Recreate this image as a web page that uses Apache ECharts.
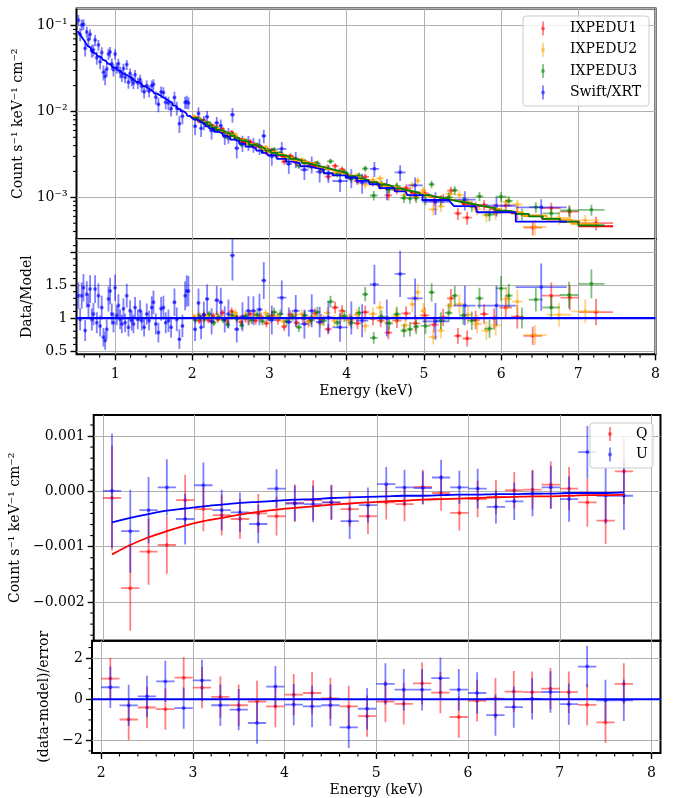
<!DOCTYPE html>
<html>
<head>
<meta charset="utf-8">
<script src="https://cdn.jsdelivr.net/npm/echarts@6/dist/echarts.min.js"></script>
<style>
html, body { margin: 0; padding: 0; background: #fff; }
#main { width: 680px; height: 798px; }
</style>
</head>
<body>
<div id="main"></div>
<script>
// ---------- spectrum: Swift/XRT (energy keV, half bin width, data/model, error, model counts) ----------
var swiftEnergy = [0.525,0.547,0.568,0.590,0.612,0.633,0.655,0.676,0.698,0.719,
    0.741,0.763,0.784,0.806,0.827,0.849,0.871,0.892,0.914,0.935,
    0.957,0.979,1.000,1.022,1.043,1.065,1.087,1.108,1.130,1.151,
    1.173,1.194,1.216,1.238,1.259,1.294,1.324,1.345,1.376,1.410,
    1.440,1.475,1.497,1.527,1.561,1.596,1.626,1.656,1.691,1.725,
    1.769,1.799,1.833,1.872,1.907,1.928,1.950,
    2.036,2.080,2.114,2.150,2.192,2.250,2.317,2.369,2.420,2.468,
    2.520,2.576,2.650,2.727,2.792,2.870,2.926,3.030,3.159,3.250,
    3.340,3.452,3.547,3.650,3.763,3.914,4.060,4.200,4.359,4.520,
    4.692,4.886,5.150,5.530,5.940,6.520];
var swiftHalfWidth = [0.011,0.011,0.011,0.011,0.011,0.011,0.011,0.011,0.011,0.011,
    0.011,0.011,0.011,0.011,0.011,0.011,0.011,0.011,0.011,0.011,
    0.011,0.011,0.011,0.011,0.011,0.011,0.011,0.011,0.011,0.011,
    0.011,0.011,0.011,0.011,0.011,0.015,0.012,0.012,0.015,0.015,
    0.015,0.015,0.012,0.015,0.017,0.017,0.015,0.015,0.017,0.017,
    0.020,0.015,0.017,0.020,0.015,0.010,0.015,
    0.02,0.02,0.017,0.02,0.025,0.03,0.03,0.025,0.025,0.025,
    0.03,0.03,0.04,0.04,0.03,0.04,0.03,0.05,0.06,0.04,
    0.05,0.05,0.05,0.05,0.06,0.10,0.08,0.08,0.06,0.10,
    0.07,0.10,0.17,0.14,0.25,0.33];
var swiftRatio = [1.34,0.98,1.34,1.46,0.81,1.36,1.19,1.44,0.98,1.06,
    1.44,0.93,1.34,0.88,1.16,0.71,0.66,0.83,1.29,1.41,
    1.06,0.93,1.46,1.04,1.19,0.98,0.91,1.14,0.93,1.34,
    0.86,1.11,0.96,0.91,1.16,0.98,1.11,0.96,0.86,1.06,
    0.96,1.16,1.24,0.91,0.78,1.14,1.16,0.93,0.96,0.86,
    1.24,0.98,0.68,0.88,1.34,1.41,1.41,
    0.83,1.23,0.86,1.05,1.29,0.95,1.27,1.24,0.98,1.06,
    1.95,0.83,1.02,1.11,1.11,1.13,1.57,0.97,1.31,0.94,
    1.11,0.91,1.11,0.94,1.01,0.86,1.00,0.96,1.51,1.00,
    1.67,1.30,0.95,1.19,1.19,1.47];
var swiftError = [0.20,0.17,0.20,0.21,0.16,0.20,0.18,0.21,0.17,0.17,
    0.21,0.16,0.19,0.16,0.18,0.14,0.14,0.15,0.19,0.20,
    0.16,0.15,0.20,0.15,0.17,0.15,0.14,0.16,0.14,0.18,
    0.14,0.16,0.15,0.14,0.16,0.15,0.16,0.15,0.14,0.16,
    0.15,0.17,0.18,0.16,0.15,0.18,0.18,0.16,0.17,0.16,
    0.21,0.18,0.15,0.17,0.22,0.24,0.23,
    0.18,0.22,0.18,0.20,0.22,0.20,0.22,0.22,0.20,0.22,
    0.38,0.20,0.22,0.22,0.22,0.24,0.28,0.22,0.26,0.22,
    0.24,0.22,0.25,0.23,0.24,0.22,0.25,0.25,0.30,0.28,
    0.35,0.30,0.28,0.30,0.30,0.36];
var swiftModel = [0.086,0.081,0.076,0.071,0.067,0.062,0.058,0.055,0.052,0.049,
    0.047,0.0455,0.0443,0.0430,0.0418,0.0402,0.0388,0.0375,0.0362,0.0350,
    0.0338,0.0328,0.0320,0.0311,0.0302,0.0294,0.0285,0.0277,0.0269,0.0262,
    0.0255,0.0249,0.0243,0.0236,0.0230,0.0220,0.0211,0.0205,0.0197,0.0188,
    0.0180,0.0172,0.0167,0.0161,0.0155,0.0148,0.0143,0.0138,0.0131,0.0125,
    0.0117,0.0112,0.0106,0.0100,0.0095,0.0092,0.0089,
    0.0081,0.0077,0.0074,0.0071,0.0067,0.0063,0.0058,0.0055,0.0052,0.0050,
    0.0047,0.0045,0.0042,0.0039,0.0037,0.0035,0.0033,0.0031,0.0028,0.0026,
    0.0025,0.0023,0.0022,0.0021,0.0019,0.0018,0.0017,0.00155,0.00142,0.00128,
    0.00117,0.00106,0.00093,0.00079,0.00067,0.00052];

// ---------- spectrum: IXPE DU1 ----------
var du1Energy = [2.03,2.09,2.15,2.21,2.27,2.33,2.39,2.45,2.51,2.57,
    2.63,2.69,2.75,2.82,2.89,2.96,3.03,3.11,3.19,3.27,
    3.35,3.43,3.51,3.59,3.67,3.76,3.85,3.94,4.04,4.14,
    4.24,4.34,4.44,4.54,4.65,4.77,4.89,5.01,5.13,5.25,
    5.35,5.44,5.56,5.67,5.78,5.91,6.06,6.21,6.41,6.65,
    6.89,7.23];
var du1HalfWidth = [0.03,0.03,0.03,0.03,0.03,0.03,0.03,0.03,0.03,0.03,
    0.03,0.03,0.035,0.035,0.035,0.035,0.04,0.04,0.04,0.04,
    0.04,0.04,0.04,0.04,0.045,0.045,0.045,0.045,0.05,0.05,
    0.05,0.05,0.05,0.05,0.06,0.06,0.06,0.06,0.06,0.06,
    0.05,0.05,0.06,0.055,0.055,0.065,0.08,0.08,0.12,0.12,
    0.12,0.22];
var du1Ratio = [1.00,0.96,1.05,0.97,1.03,0.98,1.08,0.95,1.10,1.02,
    0.94,0.99,1.06,0.96,1.02,0.92,1.04,0.97,0.87,1.05,
    0.93,1.00,0.95,1.07,0.98,0.83,1.16,1.11,0.97,0.92,
    1.09,0.99,0.96,0.78,0.96,1.07,0.92,1.04,0.90,1.01,
    1.30,0.73,0.69,0.97,1.06,1.00,1.16,1.02,0.73,1.34,
    1.31,1.09];
var du1Error = [0.05,0.05,0.05,0.05,0.05,0.05,0.05,0.05,0.06,0.06,
    0.06,0.06,0.06,0.06,0.06,0.06,0.07,0.07,0.07,0.07,
    0.07,0.07,0.08,0.08,0.08,0.08,0.09,0.09,0.09,0.09,
    0.10,0.10,0.10,0.10,0.11,0.11,0.12,0.12,0.12,0.13,
    0.14,0.12,0.12,0.14,0.15,0.15,0.17,0.18,0.14,0.20,
    0.19,0.20];
var du1Model = [0.0085,0.0080,0.0075,0.0070,0.0066,0.0062,0.0058,0.0055,0.0052,0.0049,
    0.0047,0.0044,0.0042,0.0040,0.0038,0.0036,0.0034,0.0032,0.0030,0.0029,
    0.0027,0.0026,0.0025,0.0023,0.0022,0.0021,0.0020,0.0019,0.00178,0.00168,
    0.00159,0.00150,0.00142,0.00135,0.00127,0.00120,0.00113,0.00107,0.00101,0.00096,
    0.00092,0.00089,0.00084,0.00080,0.00077,0.00073,0.00069,0.00065,0.00061,0.00056,
    0.00052,0.00046];

// ---------- spectrum: IXPE DU2 ----------
var du2Energy = [2.02,2.08,2.14,2.20,2.26,2.32,2.38,2.44,2.50,2.56,
    2.62,2.68,2.74,2.81,2.88,2.95,3.02,3.10,3.18,3.26,
    3.34,3.42,3.50,3.58,3.66,3.75,3.84,3.93,4.03,4.13,
    4.24,4.34,4.43,4.53,4.64,4.76,4.85,4.92,4.99,5.12,
    5.22,5.34,5.46,5.57,5.69,5.81,5.93,6.07,6.21,6.44,
    6.75,7.09];
var du2HalfWidth = [0.03,0.03,0.03,0.03,0.03,0.03,0.03,0.03,0.03,0.03,
    0.03,0.03,0.035,0.035,0.035,0.035,0.04,0.04,0.04,0.04,
    0.04,0.04,0.04,0.04,0.045,0.045,0.045,0.045,0.05,0.05,
    0.05,0.05,0.05,0.05,0.06,0.06,0.035,0.035,0.035,0.06,
    0.05,0.06,0.06,0.06,0.06,0.06,0.065,0.07,0.07,0.15,
    0.16,0.18];
var du2Ratio = [1.02,1.05,0.98,1.04,0.94,1.06,1.00,0.96,1.03,1.08,
    0.99,1.04,0.95,1.05,1.01,1.07,0.98,1.03,0.95,0.99,
    1.05,1.06,0.94,1.02,0.92,1.08,0.96,1.03,0.97,1.05,
    0.88,1.06,1.16,0.93,1.03,0.89,1.21,1.39,1.11,0.71,
    0.81,1.19,1.21,1.05,0.91,0.81,0.89,1.29,1.25,0.74,
    1.05,1.10];
var du2Error = [0.05,0.05,0.05,0.05,0.05,0.05,0.05,0.05,0.06,0.06,
    0.06,0.06,0.06,0.06,0.06,0.06,0.07,0.07,0.07,0.07,
    0.07,0.07,0.08,0.08,0.08,0.08,0.09,0.09,0.09,0.09,
    0.10,0.10,0.10,0.10,0.11,0.11,0.12,0.13,0.12,0.11,
    0.12,0.14,0.15,0.14,0.14,0.14,0.15,0.18,0.18,0.15,
    0.18,0.18];
var du2Model = [0.0086,0.0081,0.0076,0.0071,0.0067,0.0063,0.0059,0.0056,0.0053,0.0050,
    0.0047,0.0045,0.0042,0.0040,0.0038,0.0036,0.0034,0.0032,0.0031,0.0029,
    0.0027,0.0026,0.0025,0.0024,0.0022,0.0021,0.0020,0.0019,0.00180,0.00170,
    0.00160,0.00150,0.00143,0.00135,0.00128,0.00120,0.00115,0.00112,0.00108,0.00102,
    0.00097,0.00092,0.00088,0.00084,0.00080,0.00076,0.00073,0.00069,0.00066,0.00061,
    0.00055,0.00049];

// ---------- spectrum: IXPE DU3 ----------
var du3Energy = [2.04,2.10,2.16,2.22,2.28,2.34,2.40,2.46,2.52,2.58,
    2.64,2.70,2.77,2.84,2.91,2.98,3.06,3.14,3.22,3.30,
    3.38,3.46,3.54,3.62,3.70,3.79,3.88,3.97,4.06,4.16,
    4.24,4.35,4.45,4.55,4.65,4.74,4.82,4.90,5.02,5.10,
    5.22,5.32,5.40,5.51,5.62,5.72,5.85,6.00,6.10,6.27,
    6.45,6.65,6.88,7.17];
var du3HalfWidth = [0.03,0.03,0.03,0.03,0.03,0.03,0.03,0.03,0.03,0.03,
    0.03,0.03,0.035,0.035,0.035,0.035,0.04,0.04,0.04,0.04,
    0.04,0.04,0.04,0.04,0.045,0.045,0.045,0.045,0.05,0.05,
    0.04,0.05,0.05,0.05,0.05,0.045,0.04,0.04,0.06,0.04,
    0.06,0.05,0.04,0.055,0.055,0.05,0.07,0.07,0.05,0.09,
    0.09,0.11,0.12,0.17];
var du3Ratio = [0.97,1.02,0.99,1.06,0.93,1.01,0.97,0.90,1.04,0.99,
    0.89,1.03,0.97,1.05,0.95,1.02,1.09,1.06,0.95,1.02,
    0.86,1.04,0.97,1.09,0.96,1.25,0.93,1.03,0.93,1.08,
    1.36,0.70,1.02,0.92,1.06,0.81,0.83,0.87,0.88,1.39,
    0.96,1.08,1.34,1.04,0.96,1.30,0.84,1.45,1.34,1.00,
    1.28,1.16,1.35,1.52];
var du3Error = [0.05,0.05,0.05,0.05,0.05,0.05,0.05,0.05,0.06,0.06,
    0.06,0.06,0.06,0.06,0.06,0.06,0.07,0.07,0.07,0.07,
    0.07,0.07,0.08,0.08,0.08,0.09,0.08,0.09,0.09,0.09,
    0.11,0.09,0.10,0.10,0.11,0.10,0.11,0.11,0.12,0.14,
    0.13,0.14,0.15,0.14,0.14,0.16,0.14,0.19,0.18,0.16,
    0.18,0.18,0.20,0.22];
var du3Model = [0.0084,0.0079,0.0074,0.0069,0.0065,0.0061,0.0058,0.0055,0.0052,0.0049,
    0.0046,0.0044,0.0041,0.0039,0.0037,0.0035,0.0033,0.0031,0.0030,0.0028,
    0.0027,0.0025,0.0024,0.0023,0.0022,0.0021,0.0020,0.0019,0.00176,0.00166,
    0.00159,0.00150,0.00141,0.00134,0.00127,0.00121,0.00117,0.00113,0.00106,0.00102,
    0.00097,0.00093,0.00090,0.00086,0.00082,0.00079,0.00075,0.00070,0.00068,0.00064,
    0.00060,0.00056,0.00052,0.00047];

// ---------- polarisation: Stokes Q and U ----------
var polEnergy = [2.1,2.3,2.5,2.7,2.9,3.1,3.3,3.5,3.7,3.9,4.1,4.3,4.5,4.7,4.9,
    5.1,5.3,5.5,5.7,5.9,6.1,6.3,6.5,6.7,6.9,7.1,7.3,7.5,7.7];
var polHalfWidth = 0.1;
var qValue = [-0.00012,-0.00175,-0.00109,-0.00097,-0.00016,-0.00032,-0.00043,-0.00050,-0.00040,-0.00045,
    -0.00021,-0.00016,-0.00020,-0.00032,-0.00045,-0.00020,-0.00023,0.00008,-0.00003,-0.00039,
    -0.00014,-0.00010,0.00002,0.00003,0.00012,0.00005,-0.00020,-0.00053,0.00036];
var qError = [0.00095,0.00077,0.00060,0.00052,0.00046,0.00040,0.00037,0.00036,0.00035,0.00035,
    0.00034,0.00036,0.00032,0.00032,0.00032,0.00031,0.00031,0.00031,0.00032,0.00032,
    0.00033,0.00031,0.00033,0.00036,0.00042,0.00039,0.00044,0.00042,0.00060];
var qModel = [-0.00114,-0.00097,-0.00083,-0.00072,-0.00062,-0.00054,-0.00048,-0.00042,-0.00037,-0.00033,
    -0.00030,-0.00027,-0.00024,-0.00022,-0.00020,-0.00018,-0.00017,-0.00015,-0.00014,-0.00013,
    -0.00012,-0.00011,-0.00010,-0.00009,-0.00009,-0.00008,-0.00007,-0.00007,-0.00006];
var uValue = [0.00001,-0.00072,-0.00034,0.00007,-0.00050,0.00011,-0.00034,-0.00038,-0.00059,0.00005,
    -0.00022,-0.00023,-0.00020,-0.00054,-0.00025,0.00013,0.00007,0.00006,0.00025,0.00007,
    0.00005,-0.00028,-0.00018,-0.00004,0.00007,-0.00014,0.00071,-0.00008,-0.00008];
var uError = [0.00103,0.00075,0.00060,0.00051,0.00046,0.00041,0.00037,0.00036,0.00035,0.00035,
    0.00032,0.00033,0.00031,0.00032,0.00032,0.00031,0.00032,0.00030,0.00032,0.00030,
    0.00036,0.00030,0.00034,0.00041,0.00039,0.00041,0.00047,0.00050,0.00062];
var uModel = [-0.00056,-0.00048,-0.00041,-0.00035,-0.00031,-0.00027,-0.00024,-0.00021,-0.00019,-0.00017,
    -0.00015,-0.00014,-0.00012,-0.00011,-0.00010,-0.00009,-0.00008,-0.00008,-0.00007,-0.00006,
    -0.00006,-0.00005,-0.00005,-0.00004,-0.00004,-0.00003,-0.00003,-0.00003,-0.00002];
var qResid = [1.00,-0.98,-0.40,-0.48,1.04,0.56,0.11,-0.29,-0.11,-0.35,0.22,0.30,0.04,-0.35,-0.82,
    -0.11,-0.22,0.77,0.32,-0.86,-0.08,0.03,0.37,0.34,0.51,0.34,-0.27,-1.12,0.74];
var uResid = [0.58,-0.30,0.14,0.86,-0.43,0.91,-0.29,-0.50,-1.15,0.61,-0.26,-0.35,-0.29,-1.36,-0.46,
    0.74,0.46,0.46,1.02,0.46,0.30,-0.77,-0.38,0.02,0.35,-0.24,1.58,-0.06,-0.05];
var residError = 1;

// ---------- axes ----------
var specXMin = 0.5, specXMax = 8;
var specYMin = 3.27e-4, specYMax = 0.158;
var ratioMin = 0.45, ratioMax = 2.2, ratioRef = 1;
var polXMin = 1.9, polXMax = 8.1;
var polYMin = -0.0027, polYMax = 0.00138;
var residMin = -2.6, residMax = 2.83, residRef = 0;
var specXTicks = [1, 2, 3, 4, 5, 6, 7, 8];
var ratioTicks = [0.5, 1, 1.5, 2];
var ratioLabels = [0.5, 1, 1.5];
var polXTicks = [2, 3, 4, 5, 6, 7, 8];
var polYTicks = [-0.002, -0.001, 0, 0.001];
var residTicks = [-2, 0, 2];
var logMinorTicks = [4e-4,5e-4,6e-4,7e-4,8e-4,9e-4,2e-3,3e-3,4e-3,5e-3,6e-3,7e-3,8e-3,9e-3,
    2e-2,3e-2,4e-2,5e-2,6e-2,7e-2,8e-2,9e-2];
var specLegend = ['IXPEDU1', 'IXPEDU2', 'IXPEDU3', 'Swift/XRT'];
var polLegend = ['Q', 'U'];

var FONT = 'DejaVu Serif';
var C_RED = 'rgba(255,0,0,0.5)', C_ORA = 'rgba(255,165,0,0.5)';
var C_GRN = 'rgba(0,128,0,0.5)', C_BLU = 'rgba(0,0,255,0.5)';

// minor ticks between a and b every step, majors skipped
function minorRange(a, b, step, major) {
    var out = [];
    var n = Math.round((b - a) / step);
    for (var i = 0; i <= n; i++) {
        var v = +(a + i * step).toFixed(6);
        if (Math.abs(v / major - Math.round(v / major)) > 1e-6) out.push(v);
    }
    return out;
}

function spectrumRows(E, W, R, Er, M) {
    return E.map(function (e, i) {
        return [e, M[i] * R[i], W[i], M[i] * (R[i] - Er[i]), M[i] * (R[i] + Er[i])];
    });
}
function ratioRows(E, W, R, Er) {
    return E.map(function (e, i) { return [e, R[i], W[i], R[i] - Er[i], R[i] + Er[i]]; });
}
function stepLine(E, W, M) {
    var pts = [];
    E.forEach(function (e, i) { pts.push([e - W[i], M[i]], [e + W[i], M[i]]); });
    return pts;
}
function polRows(V, Er) {
    return polEnergy.map(function (e, i) { return [e, V[i], polHalfWidth, V[i] - Er[i], V[i] + Er[i]]; });
}
function residRows(V) {
    return polEnergy.map(function (e, i) { return [e, V[i], polHalfWidth, V[i] - residError, V[i] + residError]; });
}

function errorSeries(xi, color, rows, z) {
    return {
        type: 'custom', xAxisIndex: xi, yAxisIndex: xi, silent: true, clip: true, z: z || 2,
        encode: {x: 0, y: 1},
        data: rows,
        renderItem: function (params, api) {
            var x = api.value(0), y = api.value(1), dx = api.value(2);
            var lo = api.coord([x, api.value(3)]), hi = api.coord([x, api.value(4)]);
            var l = api.coord([x - dx, y]), r = api.coord([x + dx, y]), c = api.coord([x, y]);
            var st = {stroke: color, lineWidth: 1.8};
            return {type: 'group', children: [
                {type: 'line', shape: {x1: lo[0], y1: lo[1], x2: hi[0], y2: hi[1]}, style: st},
                {type: 'line', shape: {x1: l[0], y1: l[1], x2: r[0], y2: r[1]}, style: st},
                {type: 'circle', shape: {cx: c[0], cy: c[1], r: 2}, style: {fill: color}}
            ]};
        }
    };
}

function lineSeries(xi, color, data, extra) {
    var s = {
        type: 'line', xAxisIndex: xi, yAxisIndex: xi, data: data, symbol: 'none', silent: true,
        z: 4, lineStyle: {color: color, width: 1.8}, itemStyle: {color: color}
    };
    for (var k in extra) s[k] = extra[k];
    return s;
}

function minorTickSeries(xi, pts, side) {
    return {
        type: 'custom', xAxisIndex: xi, yAxisIndex: xi, silent: true, clip: false, z: 6,
        encode: {x: 0, y: 1},
        data: pts,
        renderItem: function (params, api) {
            var p = api.coord([api.value(0), api.value(1)]);
            var shape = side === 'left'
                ? {x1: p[0] - 3.5, y1: p[1], x2: p[0], y2: p[1]}
                : {x1: p[0], y1: p[1], x2: p[0], y2: p[1] + 3.5};
            return {type: 'line', shape: shape, style: {stroke: '#000', lineWidth: 1.1}};
        }
    };
}

var nameStyle = {fontFamily: FONT, fontSize: 14, color: '#000'};

function valueAxis(grid, min, max, ticks, labels, fmt, margin) {
    var ax = {
        gridIndex: grid, type: 'value', min: min, max: max,
        axisLine: {show: false, onZero: false},
        axisTick: {show: true, length: 6, customValues: ticks, lineStyle: {color: '#000', width: 1.4}},
        axisLabel: {show: !!labels, customValues: labels || ticks, margin: margin || 9,
            fontFamily: FONT, fontSize: 14, color: '#000'},
        splitLine: {show: true, lineStyle: {color: '#b0b0b0', width: 1}}
    };
    if (fmt) ax.axisLabel.formatter = fmt;
    return ax;
}
function withName(ax, name, gap) {
    ax.name = name; ax.nameLocation = 'middle'; ax.nameGap = gap; ax.nameTextStyle = nameStyle;
    return ax;
}
function minusFmt(v) { return String(v).replace('-', '\u2212'); }
function fixed3Fmt(v) { return v.toFixed(3).replace('-', '\u2212'); }
function powFmt(v) {
    var lg = Math.log(v) / Math.LN10, n = Math.round(lg);
    if (Math.abs(lg - n) > 0.01) return '';
    var sup = {'-': '\u207b', '0': '\u2070', '1': '\u00b9', '2': '\u00b2', '3': '\u00b3', '4': '\u2074'};
    return '10' + String(n).split('').map(function (ch) { return sup[ch]; }).join('');
}

var xTop = valueAxis(0, specXMin, specXMax, specXTicks, null);
xTop.axisTick.show = false;
var xRatio = withName(valueAxis(1, specXMin, specXMax, specXTicks, specXTicks, minusFmt, 13), 'Energy (keV)', 30);
var xPol = valueAxis(2, polXMin, polXMax, polXTicks, null);
xPol.axisTick.show = false;
var xResid = withName(valueAxis(3, polXMin, polXMax, polXTicks, polXTicks, minusFmt, 13), 'Energy (keV)', 30);

var yTop = {
    gridIndex: 0, type: 'log', logBase: 10, min: specYMin, max: specYMax,
    axisLine: {show: false, onZero: false},
    axisTick: {show: true, length: 6, lineStyle: {color: '#000', width: 1.4}},
    axisLabel: {showMinLabel: false, showMaxLabel: false, margin: 9, formatter: powFmt,
        fontFamily: FONT, fontSize: 14, color: '#000'},
    splitLine: {show: true, lineStyle: {color: '#b0b0b0', width: 1}},
    name: 'Count s\u207b\u00b9 keV\u207b\u00b9 cm\u207b\u00b2', nameLocation: 'middle', nameGap: 44,
    nameTextStyle: nameStyle
};
var yRatio = withName(valueAxis(1, ratioMin, ratioMax, ratioTicks, ratioLabels, minusFmt), 'Data/Model', 32);
var yPol = withName(valueAxis(2, polYMin, polYMax, polYTicks, polYTicks, fixed3Fmt),
    'Count s\u207b\u00b9 keV\u207b\u00b9 cm\u207b\u00b2', 59);
var yResid = withName(valueAxis(3, residMin, residMax, residTicks, residTicks, minusFmt), '(data-model)/error', 27);

// minor tick positions
var specXMinor = minorRange(0.6, 7.8, 0.2, 1);
var polXMinor = minorRange(2.0, 8.0, 0.2, 1);
var ratioMinor = minorRange(0.5, 2.1, 0.1, 0.5);
var polYMinor = minorRange(-0.0026, 0.0012, 0.0002, 0.001);
var residMinor = minorRange(-2.5, 2.5, 0.5, 2);

var series = [
    minorTickSeries(0, logMinorTicks.map(function (v) { return [specXMin, v]; }), 'left'),
    minorTickSeries(1, specXMinor.map(function (v) { return [v, ratioMin]; }), 'down'),
    minorTickSeries(1, ratioMinor.map(function (v) { return [specXMin, v]; }), 'left'),
    minorTickSeries(3, polXMinor.map(function (v) { return [v, residMin]; }), 'down'),
    minorTickSeries(2, polYMinor.map(function (v) { return [polXMin, v]; }), 'left'),
    minorTickSeries(3, residMinor.map(function (v) { return [polXMin, v]; }), 'left'),

    errorSeries(0, C_RED, spectrumRows(du1Energy, du1HalfWidth, du1Ratio, du1Error, du1Model)),
    errorSeries(0, C_ORA, spectrumRows(du2Energy, du2HalfWidth, du2Ratio, du2Error, du2Model)),
    errorSeries(0, C_GRN, spectrumRows(du3Energy, du3HalfWidth, du3Ratio, du3Error, du3Model)),
    errorSeries(0, C_BLU, spectrumRows(swiftEnergy, swiftHalfWidth, swiftRatio, swiftError, swiftModel)),
    lineSeries(0, '#ff0000', stepLine(du1Energy, du1HalfWidth, du1Model)),
    lineSeries(0, '#ffa500', stepLine(du2Energy, du2HalfWidth, du2Model)),
    lineSeries(0, '#008000', stepLine(du3Energy, du3HalfWidth, du3Model)),
    lineSeries(0, '#0000ff', stepLine(swiftEnergy, swiftHalfWidth, swiftModel)),

    errorSeries(1, C_RED, ratioRows(du1Energy, du1HalfWidth, du1Ratio, du1Error)),
    errorSeries(1, C_ORA, ratioRows(du2Energy, du2HalfWidth, du2Ratio, du2Error)),
    errorSeries(1, C_GRN, ratioRows(du3Energy, du3HalfWidth, du3Ratio, du3Error)),
    errorSeries(1, C_BLU, ratioRows(swiftEnergy, swiftHalfWidth, swiftRatio, swiftError)),
    lineSeries(1, '#0000ff', [[specXMin, ratioRef], [specXMax, ratioRef]], {lineStyle: {color: '#0000ff', width: 2.2}}),

    errorSeries(2, C_RED, polRows(qValue, qError)),
    errorSeries(2, C_BLU, polRows(uValue, uError)),
    lineSeries(2, '#ff0000', polEnergy.map(function (e, i) { return [e, qModel[i]]; }), {smooth: 0.3}),
    lineSeries(2, '#0000ff', polEnergy.map(function (e, i) { return [e, uModel[i]]; }), {smooth: 0.3}),

    errorSeries(3, C_RED, residRows(qResid)),
    errorSeries(3, C_BLU, residRows(uResid)),
    lineSeries(3, '#0000ff', [[polXMin, residRef], [polXMax, residRef]], {lineStyle: {color: '#0000ff', width: 2.2}})
];

// legends drawn as graphic elements (matplotlib-style errorbar handles)
function legendGraphics(names, colors, box, markerX, textX, firstY, stepY) {
    var g = [{type: 'rect', shape: {x: box[0], y: box[1], width: box[2], height: box[3], r: 3},
        style: {fill: 'rgba(255,255,255,0.8)', stroke: '#cccccc', lineWidth: 1}, z: 100}];
    names.forEach(function (name, i) {
        var y = firstY + i * stepY;
        g.push({type: 'line', shape: {x1: markerX, y1: y - 7, x2: markerX, y2: y + 7},
            style: {stroke: colors[i], lineWidth: 1.8}, z: 101});
        g.push({type: 'circle', shape: {cx: markerX, cy: y, r: 2}, style: {fill: colors[i]}, z: 101});
        g.push({type: 'text', x: textX, y: y, z: 101,
            style: {text: name, fontFamily: FONT, fontSize: 14, fill: '#000', verticalAlign: 'middle', align: 'left'}});
    });
    return g;
}

function gridAt(l, t, w, h) {
    return {show: true, borderColor: '#000', borderWidth: 2, left: l, top: t, width: w, height: h};
}

var option = {
    animation: false,
    backgroundColor: '#fff',
    textStyle: {fontFamily: FONT},
    grid: [
        gridAt(76.5, 8.5, 579, 230.5),
        gridAt(76.5, 239, 579, 115.3),
        gridAt(92, 415, 568.5, 225.7),
        gridAt(92, 640.7, 568.5, 113)
    ],
    xAxis: [xTop, xRatio, xPol, xResid],
    yAxis: [yTop, yRatio, yPol, yResid],
    series: series,
    graphic: legendGraphics(specLegend, [C_RED, C_ORA, C_GRN, C_BLU], [523, 16, 126, 90], 543, 570, 28.5, 21.3)
        .concat(legendGraphics(polLegend, [C_RED, C_BLU], [590, 423, 63, 45], 610, 636, 434, 20.5))
};

var chart = echarts.init(document.getElementById('main'), null, {renderer: 'canvas'});
chart.setOption(option);
</script>
</body>
</html>
